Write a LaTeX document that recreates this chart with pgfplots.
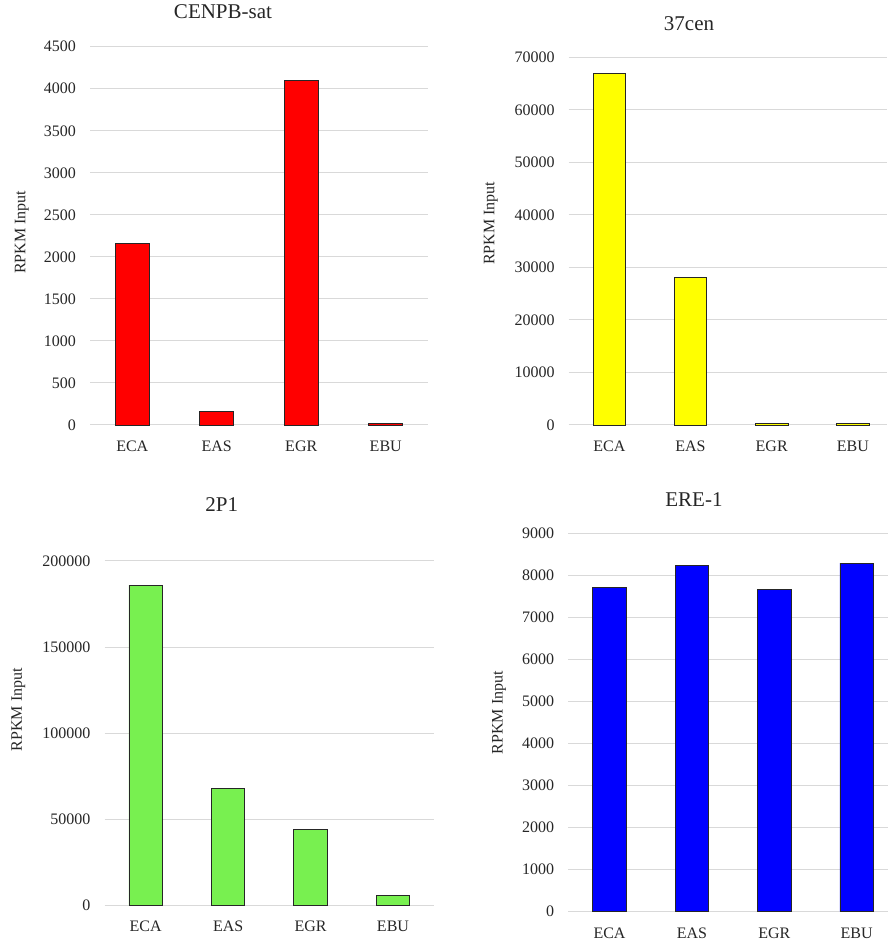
\documentclass[border=0pt]{standalone}
\usepackage{pgfplots}
\pgfplotsset{compat=1.18}
\usepackage{fontspec}
\setmainfont{Liberation Serif}

\definecolor{barred}{RGB}{255,0,0}
\definecolor{baryellow}{RGB}{255,255,0}
\definecolor{bargreen}{RGB}{120,240,80}
\definecolor{barblue}{RGB}{0,0,255}
\definecolor{gridgray}{RGB}{217,217,217}

\pgfplotsset{
  rpkm/.style={
    scale only axis,
    anchor=south west,
    ybar,
    ymin=0,
    xtick={0,1,2,3},
    xticklabels={ECA,EAS,EGR,EBU},
    xmin=-0.5,
    axis line style={draw=none},
    major tick length=0pt,
    ymajorgrids,
    major grid style={draw=gridgray, line width=1pt},
    /pgf/number format/assume math mode=true,
    /pgf/number format/fixed,
    /pgf/number format/1000 sep={},
    scaled y ticks=false,
    tick label style={font=\fontsize{16}{19}\selectfont, text=black!85},
    yticklabel style={anchor=east, inner sep=0pt, xshift=-14pt},
    xticklabel style={anchor=north, inner sep=0pt, yshift=-16pt},
    ylabel={RPKM Input},
    ylabel style={font=\fontsize{16}{19}\selectfont, text=black!85, anchor=center},
    title style={font=\fontsize{21}{25}\selectfont, text=black!85, anchor=center},
    every axis plot/.append style={draw=black!85, line width=0.9pt},
    clip=false,
  }
}

\begin{document}
\begin{tikzpicture}
\useasboundingbox (0pt,0pt) rectangle (888pt,942pt);

% CENPB-sat
\begin{axis}[rpkm,
  at={(90pt,517pt)}, width=338pt, height=378.3pt,
  xmax=3.5, ymax=4500, ytick={0,500,...,4500},
  bar width=34pt,
  title={CENPB-sat},
  title style={at={(axis description cs:0.3935,1.076)}},
  ylabel style={at={(axis description cs:-0.202,0.5097)}},
]
\addplot[fill=barred] coordinates {(0,2160) (1,160) (2,4100) (3,20)};
\end{axis}

% 37cen
\begin{axis}[rpkm,
  at={(568.7pt,517pt)}, width=318.3pt, height=367.7pt,
  xmax=3.42, ymax=70000, ytick={0,10000,...,70000},
  bar width=32.5pt,
  title={37cen},
  title style={at={(axis description cs:0.378,1.0743)}},
  ylabel style={at={(axis description cs:-0.245,0.5485)}},
]
\addplot[fill=baryellow] coordinates {(0,67000) (1,28000) (2,300) (3,300)};
\end{axis}

% 2P1
\begin{axis}[rpkm,
  at={(104.5pt,36.3pt)}, width=329.7pt, height=344.7pt,
  xmax=3.5, ymax=200000, ytick={0,50000,100000,150000,200000},
  bar width=33.5pt,
  xticklabel style={yshift=1pt},
  title={2P1},
  title style={at={(axis description cs:0.3555,1.1456)}},
  ylabel style={at={(axis description cs:-0.2614,0.5686)}},
]
\addplot[fill=bargreen] coordinates {(0,186000) (1,68000) (2,44500) (3,6200)};
\end{axis}

% ERE-1
\begin{axis}[rpkm,
  at={(568.3pt,30.3pt)}, width=319.7pt, height=378.4pt,
  xmax=3.38, ymax=9000, ytick={0,1000,...,9000},
  bar width=33.5pt,
  title={ERE-1},
  title style={at={(axis description cs:0.393,1.0727)}},
  ylabel style={at={(axis description cs:-0.2168,0.5259)}},
]
\addplot[fill=barblue] coordinates {(0,7720) (1,8230) (2,7670) (3,8290)};
\end{axis}
\end{tikzpicture}
\end{document}
